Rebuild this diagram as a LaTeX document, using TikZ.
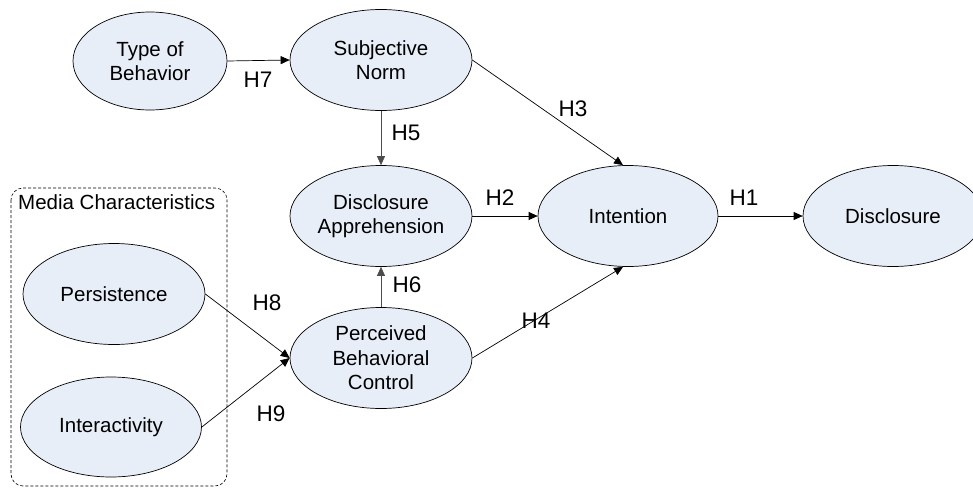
\documentclass[tikz,border=0pt]{standalone}
\usepackage{fontspec}
\setmainfont{Liberation Sans}
\usetikzlibrary{shapes.geometric,arrows.meta}
\definecolor{nodefill}{RGB}{232,238,248}
\begin{document}
\begin{tikzpicture}[x=1pt,y=-1pt,
  construct/.style={ellipse,draw=black,line width=0.7pt,fill=nodefill,inner sep=0pt,
    minimum width=182pt,minimum height=101pt},
  ctext/.style={align=center,font=\fontsize{20.5}{24.5}\selectfont,inner sep=0pt},
  hyp/.style={font=\fontsize{22.5}{26}\selectfont,inner sep=0pt},
  path/.style={draw=black,line width=0.7pt,-{Triangle[length=9pt,width=8pt]}},
  vpath/.style={path,draw=black!70},
]
\useasboundingbox (0,0) rectangle (973,487);

% media characteristics group
\draw[dashed,line width=0.6pt,dash pattern=on 3pt off 2pt,rounded corners=12pt]
  (11,188) rectangle (227,486);
\node[ctext,anchor=west] (mediatitle) at (18,202) {Media Characteristics};

% constructs
\node[construct,minimum width=154pt,minimum height=98pt] (tob) at (150,61) {};
\node[construct] (sn)  at (381,60) {};
\node[construct] (da)  at (381,216) {};
\node[construct] (pbc) at (381,358) {};
\node[construct] (per) at (114,294) {};
\node[construct,minimum width=181pt,minimum height=100pt] (ia) at (111,427) {};
\node[construct,minimum width=180pt] (int) at (628,216) {};
\node[construct,minimum width=180pt] (dis) at (893,216) {};

\node[ctext] (tobt) at (tob) {Type of\\Behavior};
\node[ctext] (snt)  at (sn)  {Subjective\\Norm};
\node[ctext] (dat)  at (da)  {Disclosure\\Apprehension};
\node[ctext] (pbct) at (pbc) {Perceived\\Behavioral\\Control};
\node[ctext] (pert) at (per) {Persistence};
\node[ctext] (iat)  at (ia)  {Interactivity};
\node[ctext] (intt) at (int) {Intention};
\node[ctext] (dist) at (dis) {Disclosure};

% hypothesised paths
\draw[path] (tob.east) -- (sn.west);
\draw[vpath] (sn.south) -- (da.north);
\draw[vpath] (pbc.north) -- (da.south);
\draw[path] (sn.east) -- ([xshift=-5pt]int.north);
\draw[path] (da.east) -- (int.west);
\draw[path] (pbc.east) -- ([xshift=-5pt]int.south);
\draw[path] (int.east) -- (dis.west);
\draw[path] (per.east) -- (pbc.west);
\draw[path] (ia.east) -- (pbc.west);

% path labels
\node[hyp] (h1) at (744,198) {H1};
\node[hyp] (h2) at (500,198) {H2};
\node[hyp] (h3) at (573,109) {H3};
\node[hyp] (h4) at (536,321) {H4};
\node[hyp] (h5) at (406,133) {H5};
\node[hyp] (h6) at (407,285) {H6};
\node[hyp] (h7) at (258,80) {H7};
\node[hyp] (h8) at (267,303) {H8};
\node[hyp] (h9) at (271,414) {H9};
\end{tikzpicture}
\end{document}
